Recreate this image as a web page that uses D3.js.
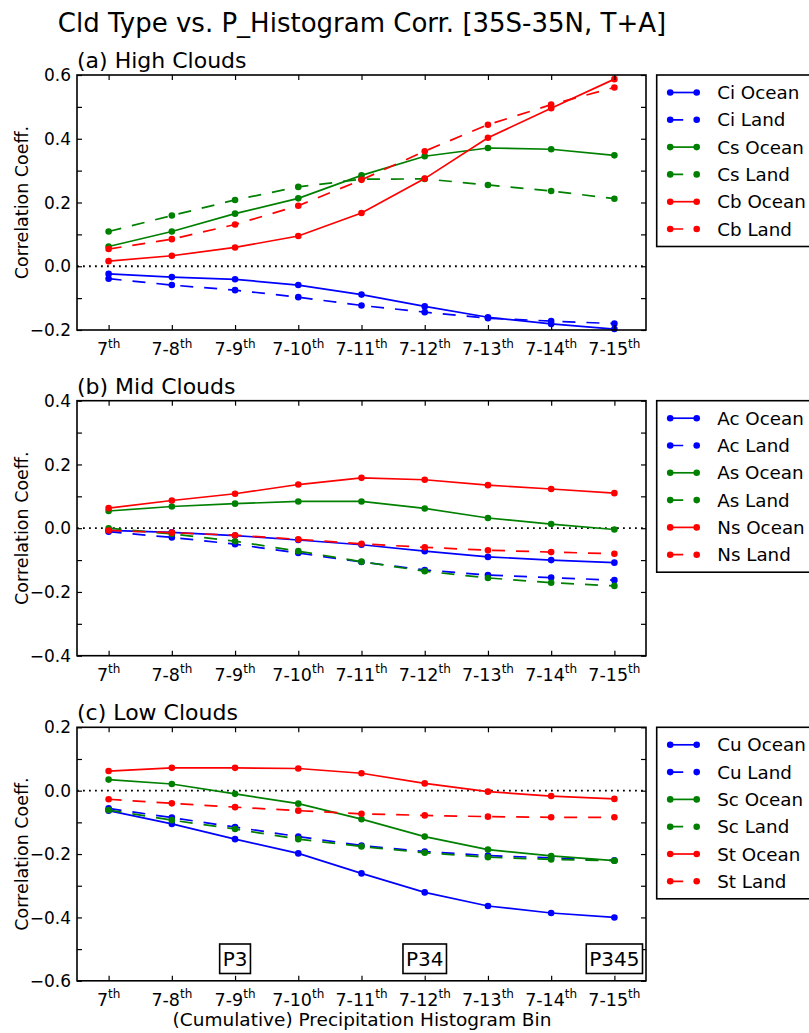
<!DOCTYPE html>
<html lang="en">

<head>
    <meta charset="UTF-8">
    <title>Cld Type vs. P_Histogram Corr.</title>
    <style>
        body { margin: 0; background: #fff; }
        svg text { font-family: "DejaVu Sans", sans-serif; fill: #000; }
    </style>
</head>

<body>
    <div id="my_dataviz"></div>

    <script src="https://d3js.org/d3.v7.min.js"></script>
    <script>

        // categories (x axis)
        const bins = ["7", "7-8", "7-9", "7-10", "7-11", "7-12", "7-13", "7-14", "7-15"];

        // (a) high clouds
        const ciOcean = [-0.024, -0.034, -0.041, -0.059, -0.089, -0.126, -0.160, -0.181, -0.197];
        const ciLand = [-0.039, -0.059, -0.075, -0.097, -0.123, -0.144, -0.163, -0.172, -0.180];
        const csOcean = [0.062, 0.109, 0.165, 0.213, 0.285, 0.345, 0.371, 0.367, 0.348];
        const csLand = [0.109, 0.159, 0.208, 0.249, 0.273, 0.274, 0.255, 0.236, 0.212];
        const cbOcean = [0.016, 0.033, 0.059, 0.095, 0.167, 0.275, 0.403, 0.496, 0.587];
        const cbLand = [0.054, 0.085, 0.131, 0.190, 0.271, 0.361, 0.444, 0.507, 0.561];

        // (b) mid clouds
        const acOcean = [-0.007, -0.013, -0.023, -0.037, -0.052, -0.072, -0.090, -0.100, -0.108];
        const acLand = [-0.011, -0.029, -0.050, -0.078, -0.106, -0.131, -0.147, -0.155, -0.163];
        const asOcean = [0.054, 0.068, 0.077, 0.084, 0.084, 0.062, 0.032, 0.013, -0.004];
        const asLand = [0.000, -0.018, -0.041, -0.072, -0.105, -0.135, -0.156, -0.171, -0.181];
        const nsOcean = [0.063, 0.087, 0.108, 0.137, 0.158, 0.152, 0.135, 0.123, 0.110];
        const nsLand = [-0.007, -0.014, -0.022, -0.035, -0.049, -0.060, -0.069, -0.075, -0.080];

        // (c) low clouds
        const cuOcean = [-0.063, -0.105, -0.153, -0.198, -0.261, -0.321, -0.364, -0.386, -0.400];
        const cuLand = [-0.056, -0.085, -0.115, -0.145, -0.173, -0.192, -0.205, -0.212, -0.220];
        const scOcean = [0.035, 0.021, -0.010, -0.041, -0.090, -0.145, -0.186, -0.206, -0.221];
        const scLand = [-0.061, -0.093, -0.121, -0.153, -0.176, -0.196, -0.210, -0.217, -0.221];
        const stOcean = [0.062, 0.072, 0.072, 0.070, 0.055, 0.023, -0.003, -0.017, -0.026];
        const stLand = [-0.027, -0.040, -0.052, -0.063, -0.073, -0.078, -0.082, -0.084, -0.084];

        // y tick labels per panel
        const yTicksA = [-0.2, 0.0, 0.2, 0.4, 0.6];
        const yTicksB = [-0.4, -0.2, 0.0, 0.2, 0.4];
        const yTicksC = [-0.6, -0.4, -0.2, 0.0, 0.2];

        // percentile boxes on panel (c)
        const boxLabels = ["P3", "P34", "P345"];
        const boxBins = ["7-9", "7-12", "7-15"];

        const colors = { blue: "#0000ff", green: "#008000", red: "#ff0000" };

        const panels = [
            {
                title: "(a) High Clouds", top: 75, h: 255, domain: [-0.2, 0.6], ticks: yTicksA,
                series: [
                    { name: "Ci Ocean", values: ciOcean, color: colors.blue, dash: false },
                    { name: "Ci Land", values: ciLand, color: colors.blue, dash: true },
                    { name: "Cs Ocean", values: csOcean, color: colors.green, dash: false },
                    { name: "Cs Land", values: csLand, color: colors.green, dash: true },
                    { name: "Cb Ocean", values: cbOcean, color: colors.red, dash: false },
                    { name: "Cb Land", values: cbLand, color: colors.red, dash: true }
                ]
            },
            {
                title: "(b) Mid Clouds", top: 400.7, h: 255, domain: [-0.4, 0.4], ticks: yTicksB,
                series: [
                    { name: "Ac Ocean", values: acOcean, color: colors.blue, dash: false },
                    { name: "Ac Land", values: acLand, color: colors.blue, dash: true },
                    { name: "As Ocean", values: asOcean, color: colors.green, dash: false },
                    { name: "As Land", values: asLand, color: colors.green, dash: true },
                    { name: "Ns Ocean", values: nsOcean, color: colors.red, dash: false },
                    { name: "Ns Land", values: nsLand, color: colors.red, dash: true }
                ]
            },
            {
                title: "(c) Low Clouds", top: 727.3, h: 253.5, domain: [-0.6, 0.2], ticks: yTicksC,
                series: [
                    { name: "Cu Ocean", values: cuOcean, color: colors.blue, dash: false },
                    { name: "Cu Land", values: cuLand, color: colors.blue, dash: true },
                    { name: "Sc Ocean", values: scOcean, color: colors.green, dash: false },
                    { name: "Sc Land", values: scLand, color: colors.green, dash: true },
                    { name: "St Ocean", values: stOcean, color: colors.red, dash: false },
                    { name: "St Land", values: stLand, color: colors.red, dash: true }
                ]
            }
        ];

        const W = 809, H = 1033;
        const left = 77, right = 646;
        const dashPattern = "13,11";

        const svg = d3.select("#my_dataviz")
            .append("svg")
            .attr("width", W)
            .attr("height", H);

        // main title
        svg.append("text")
            .attr("x", 362)
            .attr("y", 32)
            .attr("text-anchor", "middle")
            .attr("font-size", 26)
            .text("Cld Type vs. P_Histogram Corr. [35S-35N, T+A]");

        const x = d3.scalePoint()
            .domain(bins)
            .range([left, right])
            .padding(0.5);

        const minorTicks = d3.range(-6, 7).map(d => d / 10);

        panels.forEach(function (p, pi) {
            const bottom = p.top + p.h;
            const y = d3.scaleLinear()
                .domain(p.domain)
                .range([bottom, p.top]);

            const g = svg.append("g");

            // panel title
            g.append("text")
                .attr("x", left)
                .attr("y", p.top - 7)
                .attr("font-size", 22)
                .text(p.title);

            // zero line
            g.append("line")
                .attr("x1", left).attr("x2", right)
                .attr("y1", y(0)).attr("y2", y(0))
                .attr("stroke", "#000")
                .attr("stroke-width", 1.8)
                .attr("stroke-dasharray", "1.8,4.2");

            // series
            const line = d3.line()
                .x((d, i) => x(bins[i]))
                .y(d => y(d));

            p.series.forEach(function (s) {
                g.append("path")
                    .datum(s.values)
                    .attr("d", line)
                    .attr("fill", "none")
                    .attr("stroke", s.color)
                    .attr("stroke-width", 1.7)
                    .attr("stroke-dasharray", s.dash ? dashPattern : null);
                g.selectAll(null)
                    .data(s.values)
                    .join("circle")
                    .attr("cx", (d, i) => x(bins[i]))
                    .attr("cy", d => y(d))
                    .attr("r", 3.3)
                    .attr("fill", s.color);
            });

            // y ticks (inward, both sides)
            const yMinor = minorTicks.filter(t => t >= p.domain[0] - 1e-9 && t <= p.domain[1] + 1e-9);
            g.append("g")
                .attr("transform", `translate(${left},0)`)
                .call(d3.axisRight(y).tickValues(yMinor).tickSize(5).tickFormat(""))
                .call(a => a.select(".domain").remove());
            g.append("g")
                .attr("transform", `translate(${right},0)`)
                .call(d3.axisLeft(y).tickValues(yMinor).tickSize(5).tickFormat(""))
                .call(a => a.select(".domain").remove());

            // y tick labels
            g.append("g")
                .selectAll("text")
                .data(p.ticks)
                .join("text")
                .attr("x", left - 6)
                .attr("y", d => y(d))
                .attr("dy", "0.36em")
                .attr("text-anchor", "end")
                .attr("font-size", 17)
                .text(d => d3.format(".1f")(d).replace("-", "\u2212"));

            // x ticks (inward, top and bottom)
            g.append("g")
                .attr("transform", `translate(0,${bottom})`)
                .call(d3.axisTop(x).tickSize(5).tickFormat(""))
                .call(a => a.select(".domain").remove());
            g.append("g")
                .attr("transform", `translate(0,${p.top})`)
                .call(d3.axisBottom(x).tickSize(5).tickFormat(""))
                .call(a => a.select(".domain").remove());
            g.selectAll(".tick line").attr("stroke", "#000").attr("stroke-width", 1.2);

            // x tick labels with superscript "th"
            const xl = g.append("g")
                .selectAll("text")
                .data(bins)
                .join("text")
                .attr("x", d => x(d))
                .attr("y", bottom + 25)
                .attr("text-anchor", "middle")
                .attr("font-size", 17.5);
            xl.append("tspan").text(d => d);
            xl.append("tspan")
                .attr("font-size", 12)
                .attr("dy", -7.5)
                .text("th");

            // frame
            g.append("rect")
                .attr("x", left).attr("y", p.top)
                .attr("width", right - left).attr("height", p.h)
                .attr("fill", "none")
                .attr("stroke", "#000")
                .attr("stroke-width", 1.6);

            // y label
            g.append("text")
                .attr("transform", `translate(28,${p.top + p.h / 2}) rotate(-90)`)
                .attr("text-anchor", "middle")
                .attr("font-size", 17.5)
                .text("Correlation Coeff.");

            // legend
            const lg = g.append("g").attr("transform", `translate(656.7,${p.top})`);
            lg.append("rect")
                .attr("x", 0).attr("y", 0)
                .attr("width", 200).attr("height", 171.5)
                .attr("fill", "#fff")
                .attr("stroke", "#000")
                .attr("stroke-width", 1.6);
            p.series.forEach(function (s, i) {
                const ly = 17.5 + i * 27.3;
                lg.append("line")
                    .attr("x1", 13.5).attr("x2", 40)
                    .attr("y1", ly).attr("y2", ly)
                    .attr("stroke", s.color)
                    .attr("stroke-width", 1.7)
                    .attr("stroke-dasharray", s.dash ? dashPattern : null);
                [13.5, 40].forEach(cx => lg.append("circle")
                    .attr("cx", cx).attr("cy", ly).attr("r", 3.3).attr("fill", s.color));
                lg.append("text")
                    .attr("x", 60.5)
                    .attr("y", ly)
                    .attr("dy", "0.36em")
                    .attr("font-size", 18.3)
                    .text(s.name);
            });

            // percentile boxes on last panel
            if (pi === 2) {
                const bg = g.append("g");
                boxLabels.forEach(function (lab, i) {
                    const cx = x(boxBins[i]);
                    const r = bg.append("rect");
                    const t = bg.append("text")
                        .attr("x", cx)
                        .attr("y", 965.5)
                        .attr("text-anchor", "middle")
                        .attr("font-size", 20)
                        .text(lab);
                    const bb = t.node().getBBox();
                    r.attr("x", bb.x - 3).attr("y", 944)
                        .attr("width", bb.width + 6).attr("height", 29.5)
                        .attr("fill", "#fff")
                        .attr("stroke", "#000")
                        .attr("stroke-width", 1.6);
                });
            }
        });

        // x label
        svg.append("text")
            .attr("x", 362)
            .attr("y", 1026)
            .attr("text-anchor", "middle")
            .attr("font-size", 18.5)
            .text("(Cumulative) Precipitation Histogram Bin");

    </script>


</body>

</html>
